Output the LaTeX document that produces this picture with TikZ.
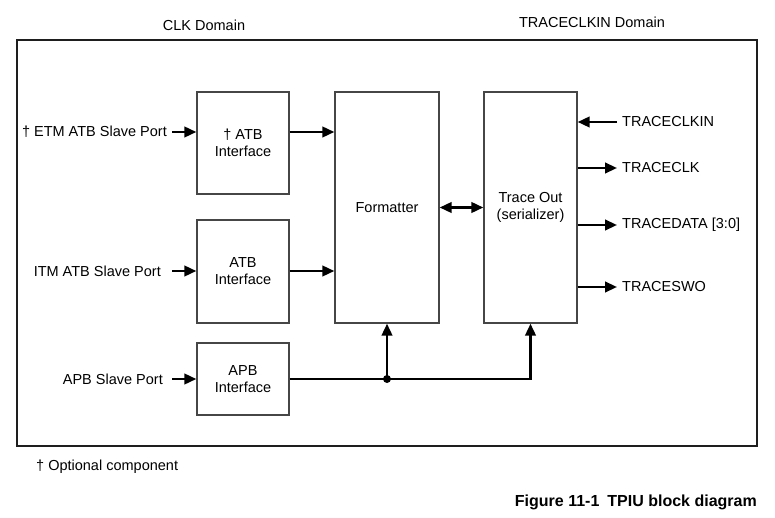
\documentclass[tikz,border=0pt]{standalone}
\usepackage{fontspec}
\setmainfont{Liberation Sans}
\usetikzlibrary{
    arrows.meta,
    calc,
    positioning
}
\definecolor{ink}{RGB}{0,0,0}
\definecolor{frame}{RGB}{30,30,30}
\definecolor{blockline}{RGB}{70,70,70}
\tikzset{
    line cap=butt,
    line join=miter,
    outer frame/.style={
        draw=frame,
        line width=1.3pt
    },
    block/.style={
        rectangle,
        draw=blockline,
        line width=1.3pt,
        fill=white,
        text=ink,
        align=center,
        inner sep=0pt
    },
    signal/.style={
        -{Triangle[length=12pt,width=10.5pt]},
        draw=ink,
        line width=2.5pt
    },
    bothways/.style={
        signal,
        {Triangle[length=12pt,width=10.5pt]}-{Triangle[length=12pt,width=10.5pt]}
    },
    bus/.style={
        draw=ink,
        line width=2.5pt
    },
    portlabel/.style={
        font=\fontsize{14.5}{17}\selectfont,
        text=ink,
        inner sep=0pt
    },
    domaintitle/.style={
        portlabel
    },
    caption/.style={
        font=\fontsize{16}{19}\selectfont\bfseries,
        text=ink,
        inner sep=0pt
    }
}

\begin{document}
\begin{tikzpicture}[
    x=1pt, y=-1pt,
    every node/.style={font=\fontsize{14.5}{17}\selectfont}
]
\useasboundingbox (0,0) rectangle (775,518);

% Domains
\node[domaintitle] (clkdom) at (204,25) {CLK Domain};
\node[domaintitle] (trcdom) at (592,22) {TRACECLKIN Domain};
\draw[outer frame] (17,40) rectangle (757,446);

% Blocks
\node[block, minimum width=92pt, minimum height=102pt] (etm) at (243,143) {† ATB\\Interface};
\node[block, minimum width=92pt, minimum height=103pt] (itm) at (243,271.5) {ATB\\Interface};
\node[block, minimum width=92pt, minimum height=72pt] (apb) at (243,379) {APB\\Interface};
\node[block, minimum width=104pt, minimum height=231pt] (fmt) at (387,207.5) {Formatter};
\node[block, minimum width=93pt, minimum height=231pt] (trc) at (530.5,207.5) {Trace Out\\(serializer)};

% Slave ports
\node[portlabel, anchor=east] (etmport) at (167,132) {† ETM ATB Slave Port};
\node[portlabel, anchor=east] (itmport) at (161,271) {ITM ATB Slave Port};
\node[portlabel, anchor=east] (apbport) at (163,379) {APB Slave Port};
\coordinate (etmtail) at (172,132);
\coordinate (itmtail) at (172,271);
\coordinate (apbtail) at (172,379);

\draw[signal] (etmtail) -- (etm.west |- etmtail);
\draw[signal] (itmtail) -- (itm.west |- itmtail);
\draw[signal] (apbtail) -- (apb.west |- apbtail);

\draw[signal] (etm.east |- etmtail) -- (fmt.west |- etmtail);
\draw[signal] (itm.east |- itmtail) -- (fmt.west |- itmtail);
\draw[bothways] (fmt.east) -- (trc.west);

% APB bus
\coordinate (tap) at (fmt.south |- apb.east);
\draw[bus] (apb.east) -- (tap);
\draw[signal] (tap) -| (trc.south);
\draw[signal] (tap) -- (fmt.south);
\fill[ink] (tap) circle (4);

% Trace pins
\node[portlabel, anchor=west] (clkin) at (622,122) {TRACECLKIN};
\node[portlabel, anchor=west] (clkout) at (622,168) {TRACECLK};
\node[portlabel, anchor=west] (data) at (622,225) {TRACEDATA [3:0]};
\node[portlabel, anchor=west] (swo) at (622,287) {TRACESWO};

\draw[signal] ([xshift=-5pt]clkin.west) -- (trc.east |- clkin);
\draw[signal] (trc.east |- clkout) -- ([xshift=-5pt]clkout.west);
\draw[signal] (trc.east |- data) -- ([xshift=-5pt]data.west);
\draw[signal] (trc.east |- swo) -- ([xshift=-5pt]swo.west);

% Notes
\node[portlabel, anchor=west] (note) at (36,467) {† Optional component};
\node[caption, anchor=east] (fig) at (757,502) {Figure 11-1\hspace{0.5em}TPIU block diagram};

\end{tikzpicture}
\end{document}
